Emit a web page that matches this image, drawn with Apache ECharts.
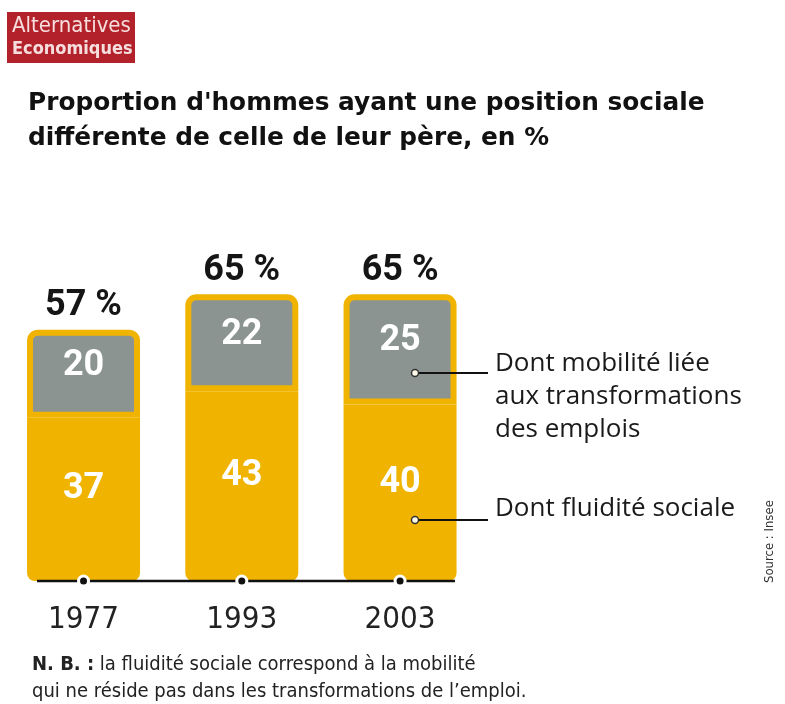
<!DOCTYPE html>
<html>
<head>
<meta charset="utf-8">
<script src="https://cdn.jsdelivr.net/npm/echarts@6/dist/echarts.min.js"></script>
<style>
  html, body { margin: 0; padding: 0; background: #ffffff; }
  #chart { width: 785px; height: 704px; }
</style>
</head>
<body>
<div id="chart"></div>
<script>
// ---- data ----
const years = ['1977', '1993', '2003'];
const fluidite = [37, 43, 40];          // Dont fluidité sociale
const transformations = [20, 22, 25];   // Dont mobilité liée aux transformations des emplois
const totals = years.map((_, i) => fluidite[i] + transformations[i]);

const titleLines = ["Proportion d'hommes ayant une position sociale", "différente de celle de leur père, en %"];
const legendTransf = ['Dont mobilité liée', 'aux transformations', 'des emplois'];
const legendFluid = 'Dont fluidité sociale';
const noteBold = 'N. B. :';
const noteLines = ['la fluidité sociale correspond à la mobilité', "qui ne réside pas dans les transformations de l’emploi."];
const source = 'Source : Insee';

// ---- styles ----
const ORANGE = '#F0B400';
const GRAY = '#8C9491';
const NARROW = '"DejaVu Sans Condensed", "Liberation Sans", sans-serif';
const NUMFONT = 'Roboto, "Liberation Sans", sans-serif';
const TITLEFONT = '"DejaVu Sans", Verdana, sans-serif';
const LEGFONT = '"Open Sans", Lato, sans-serif';

const chart = echarts.init(document.getElementById('chart'), null, { renderer: 'canvas' });

const option = {
  backgroundColor: '#ffffff',
  animation: false,
  grid: { left: 4.4, right: 305.8, top: 228.2, bottom: 123 },
  xAxis: {
    type: 'category',
    data: years,
    axisLine: { show: false },
    axisTick: { show: false },
    axisLabel: { margin: 23, fontFamily: NARROW, fontSize: 31, color: '#222' }
  },
  yAxis: { type: 'value', min: 0, max: 80, show: false, splitLine: { show: false } },
  series: [
    {
      name: legendFluid,
      type: 'bar',
      stack: 'total',
      barWidth: 113,
      data: fluidite,
      itemStyle: { color: ORANGE, borderRadius: [0, 0, 8, 8] },
      label: {
        show: true, position: 'inside', offset: [0, -10],
        color: '#ffffff', fontFamily: NUMFONT, fontWeight: 'bold', fontSize: 36
      },
      z: 2
    },
    {
      name: legendTransf.join(' '),
      type: 'bar',
      stack: 'total',
      barWidth: 113,
      data: transformations,
      itemStyle: { color: GRAY, borderColor: ORANGE, borderWidth: 6, borderRadius: [8, 8, 0, 0] },
      label: {
        show: true, position: 'inside', offset: [0, -8],
        color: '#ffffff', fontFamily: NUMFONT, fontWeight: 'bold', fontSize: 36
      },
      z: 2
    },
    {
      name: 'totals',
      type: 'scatter',
      data: totals,
      symbol: 'circle',
      symbolSize: 1,
      clip: false,
      itemStyle: { color: 'rgba(0,0,0,0)', opacity: 1 },
      label: {
        show: true, position: 'top', distance: 5,
        formatter: p => totals[p.dataIndex] + ' %',
        color: '#151515', fontFamily: NUMFONT, fontWeight: 'bold', fontSize: 36
      },
      z: 5
    },
    {
      name: 'axisDots',
      type: 'scatter',
      data: years.map(() => 0),
      symbol: 'circle',
      symbolSize: 10,
      clip: false,
      itemStyle: { color: '#111111', borderColor: '#ffffff', borderWidth: 3, opacity: 1 },
      z: 10
    }
  ],
  graphic: [
    // logo
    { type: 'rect', left: 7, top: 12, shape: { width: 128, height: 51 }, style: { fill: '#b3222a' } },
    { type: 'text', left: 12, top: 15, style: { text: 'Alternatives', fill: '#f6dede', font: '22px ' + NARROW } },
    { type: 'text', left: 12, top: 40, style: { text: 'Economiques', fill: '#f6dede', font: 'bold 18px ' + NARROW } },
    // title
    { type: 'text', left: 28, top: 91, style: { text: titleLines[0], fill: '#111', font: 'bold 24.8px ' + TITLEFONT } },
    { type: 'text', left: 28, top: 126, style: { text: titleLines[1], fill: '#111', font: 'bold 24.8px ' + TITLEFONT } },
    // baseline
    { type: 'line', shape: { x1: 37, y1: 581, x2: 455, y2: 581 }, style: { stroke: '#111', lineWidth: 2.5 }, z: 8 },
    // annotation connectors
    { type: 'line', shape: { x1: 418, y1: 373, x2: 488, y2: 373 }, style: { stroke: '#111', lineWidth: 2 }, z: 20 },
    { type: 'circle', shape: { cx: 415, cy: 373, r: 3.5 }, style: { fill: '#fffbe8', stroke: '#333', lineWidth: 1.5 }, z: 21 },
    { type: 'line', shape: { x1: 418, y1: 520, x2: 488, y2: 520 }, style: { stroke: '#111', lineWidth: 2 }, z: 20 },
    { type: 'circle', shape: { cx: 415, cy: 520, r: 3.5 }, style: { fill: '#fffbe8', stroke: '#333', lineWidth: 1.5 }, z: 21 },
    // annotation texts
    { type: 'text', left: 495, top: 347, style: { text: legendTransf.join('\n'), fill: '#1a1a1a', font: '26px ' + LEGFONT, lineHeight: 33 } },
    { type: 'text', left: 495, top: 496, style: { text: legendFluid, fill: '#1a1a1a', font: '26px ' + LEGFONT } },
    // source (vertical)
    { type: 'text', x: 770, y: 583, rotation: Math.PI / 2, style: { text: source, fill: '#333', font: '13px ' + NARROW, verticalAlign: 'middle', align: 'left' } },
    // note
    { type: 'text', left: 32, top: 651, style: {
        text: '{b|' + noteBold + '} ' + noteLines[0] + '\n' + noteLines[1],
        fill: '#222', font: '20px ' + NARROW, lineHeight: 27,
        rich: { b: { fontWeight: 'bold', fontFamily: NARROW, fontSize: 20, fill: '#222' } }
      } }
  ]
};

chart.setOption(option);
</script>
</body>
</html>
